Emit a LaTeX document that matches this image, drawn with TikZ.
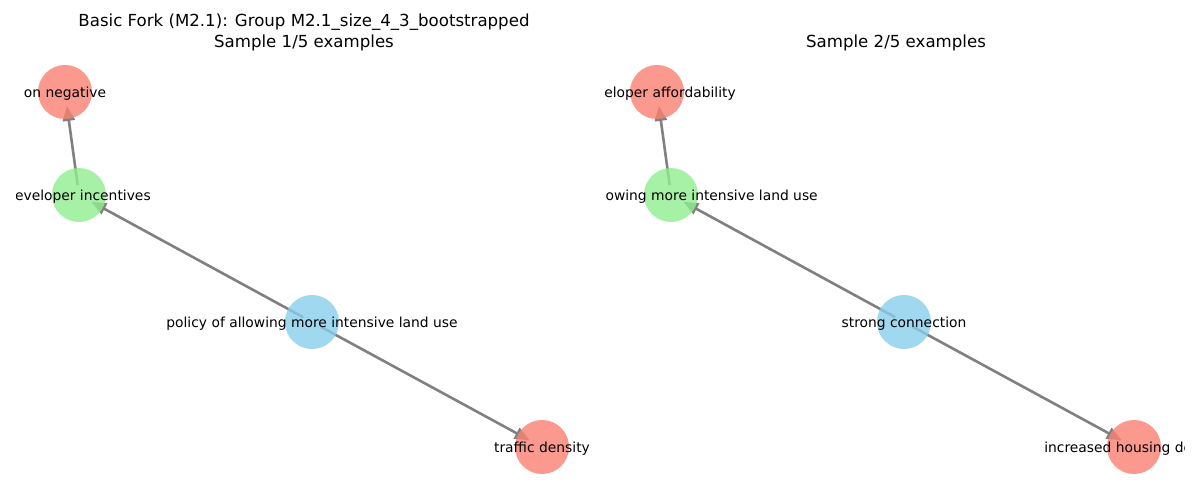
\documentclass[tikz,border=0pt]{standalone}
\usepackage{fontspec}
\setmainfont{DejaVu Sans}
\usetikzlibrary{arrows.meta}

\definecolor{nodered}{RGB}{250,128,114}
\definecolor{nodegreen}{RGB}{144,238,144}
\definecolor{nodeblue}{RGB}{135,206,235}

\begin{document}
\begin{tikzpicture}[x=0.01in,y=-0.01in,
  edge/.style={draw=gray, line width=0.026in, shorten <=0.1in, shorten >=0.14in,
    -{Triangle[length=0.15in,width=0.12in]}},
  dot/.style={opacity=0.8},
  lab/.style={inner sep=0pt, yshift=-0.018in, font=\fontsize{10}{12}\selectfont},
  ttl/.style={inner sep=0pt, font=\fontsize{12}{14}\selectfont}]
\useasboundingbox (0,0) rectangle (1200,500);

\def\panel{592}
\def\rad{0.27in}

% first sample
\coordinate (P1) at (312,322);
\coordinate (M1) at (79,195);
\coordinate (A1) at (65,92);
\coordinate (B1) at (542,447);

\draw[edge] (P1) -- (M1);
\draw[edge] (M1) -- (A1);
\draw[edge] (P1) -- (B1);

\fill[nodeblue, dot] (P1) circle (\rad);
\fill[nodegreen, dot] (M1) circle (\rad);
\fill[nodered, dot] (A1) circle (\rad);
\fill[nodered, dot] (B1) circle (\rad);

\begin{scope}
\clip (16,0) rectangle (595,500);
\node[lab] (p1) at (P1) {policy of allowing more intensive land use};
\node[lab, anchor=east] (m1) at (151,195) {eveloper incentives};
\node[lab] (a1) at (A1) {on negative};
\node[lab] (b1) at (B1) {traffic density};
\end{scope}

\node[ttl, anchor=base] (t1) at (304,26) {Basic Fork (M2.1): Group M2.1\_size\_4\_3\_bootstrapped};
\node[ttl, anchor=base] (s1) at (304,47) {Sample 1/5 examples};

% second sample
\coordinate (P2) at (\panel+312,322);
\coordinate (M2) at (\panel+79,195);
\coordinate (A2) at (\panel+65,92);
\coordinate (B2) at (\panel+542,447);

\draw[edge] (P2) -- (M2);
\draw[edge] (M2) -- (A2);
\draw[edge] (P2) -- (B2);

\fill[nodeblue, dot] (P2) circle (\rad);
\fill[nodegreen, dot] (M2) circle (\rad);
\fill[nodered, dot] (A2) circle (\rad);
\fill[nodered, dot] (B2) circle (\rad);

\begin{scope}
\clip (605,0) rectangle (1184,500);
\node[lab] (p2) at (P2) {strong connection};
\node[lab, anchor=east] (m2) at (818,195) {owing more intensive land use};
\node[lab, anchor=east] (a2) at (736,92) {eloper affordability};
\node[lab, anchor=west] (b2) at (1044,447) {increased housing de};
\end{scope}

\node[ttl, anchor=base] (s2) at (896,47) {Sample 2/5 examples};

\end{tikzpicture}
\end{document}
